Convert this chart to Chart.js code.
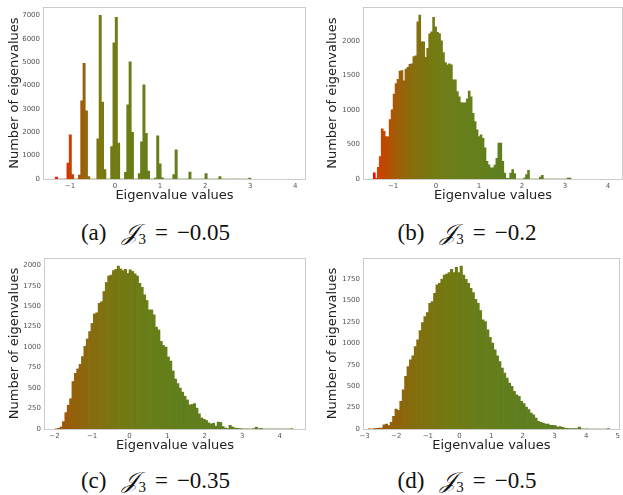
<!DOCTYPE html>
<html>
<head>
<meta charset="utf-8">
<script src="https://cdn.jsdelivr.net/npm/chart.js@4.4.0/dist/chart.umd.min.js"></script>
<style>
  body { margin: 0; background: #fff; }
  #fig { position: relative; width: 623px; height: 495px; overflow: hidden; }
  .panel { position: absolute; }
  .cap {
    position: absolute;
    text-align: center;
    font-family: 'Liberation Serif', 'DejaVu Serif', serif;
    font-size: 23px;
    color: #111;
    white-space: nowrap;
  }
  .cap sub { font-size: 15px; vertical-align: -4px; }
  .cap .J { font-style: italic; margin-left: 16px; }
  .cap .op { margin: 0 9px; }
</style>
</head>
<body>
<div id="fig">
  <div class="panel" style="left:0;top:0"><canvas id="chart-a" width="311" height="205"></canvas></div>
  <div class="panel" style="left:311px;top:0"><canvas id="chart-b" width="312" height="205"></canvas></div>
  <div class="panel" style="left:0;top:250px"><canvas id="chart-c" width="311" height="205"></canvas></div>
  <div class="panel" style="left:311px;top:250px"><canvas id="chart-d" width="312" height="205"></canvas></div>
  <div class="cap" style="left:0;top:220px;width:311px">(a)<span class="J">𝒥</span><sub>3</sub><span class="op">=</span>−0.05</div>
  <div class="cap" style="left:311px;top:220px;width:312px">(b)<span class="J">𝒥</span><sub>3</sub><span class="op">=</span>−0.2</div>
  <div class="cap" style="left:0;top:468px;width:311px">(c)<span class="J">𝒥</span><sub>3</sub><span class="op">=</span>−0.35</div>
  <div class="cap" style="left:311px;top:468px;width:312px">(d)<span class="J">𝒥</span><sub>3</sub><span class="op">=</span>−0.5</div>
</div>
<script>
// Histogram data: first bin edge, bin width, counts per bin

// (a) J3 = -0.05
const binStartA = -1.326;
const binWidthA = 0.0511;
const countsA = [
  85, 0, 0, 0, 0, 680, 1890, 185, 0, 0,
  170, 3340, 4950, 2920, 100, 0, 0, 0, 1720, 7000,
  3290, 400, 0, 0, 1390, 5830, 6920, 1540, 0, 0,
  285, 3170, 5010, 2000, 0, 0, 230, 1590, 4030, 1950,
  340, 0, 0, 40, 1850, 650, 55, 0, 0, 0,
  0, 185, 1250, 0, 0, 0, 0, 0, 300, 0,
  0, 0, 0, 0, 0, 230, 0, 0, 0, 0,
  0, 100, 0, 0, 0, 0, 0, 0, 0, 0,
  0, 0, 0, 0, 40
];
const xTicksA = [-1, 0, 1, 2, 3, 4];
const yTicksA = [0, 1000, 2000, 3000, 4000, 5000, 6000, 7000];

// (b) J3 = -0.2
const binStartB = -1.46;
const binWidthB = 0.046;
const countsB = [
  90, 10, 170, 325, 725, 690, 615, 610, 860, 1000,
  1230, 1380, 1440, 1560, 1570, 1420, 1590, 1615, 1660, 1665,
  1770, 1780, 2275, 2370, 1985, 1985, 1760, 1890, 2100, 2130,
  2340, 2200, 2120, 2105, 2000, 1830, 1685, 1650, 1665, 1650,
  1435, 1435, 1265, 1190, 1105, 1100, 1100, 1160, 1270, 1190,
  950, 830, 710, 615, 640, 590, 450, 255, 205, 160,
  160, 200, 300, 520, 520, 255, 87, 10, 10, 87,
  135, 77, 0, 0, 0, 0, 15, 63, 125, 0,
  0, 0, 0, 0, 29, 53, 0, 0, 0, 0,
  0, 0, 0, 0, 0, 0, 0, 0, 15, 15
];
const xTicksB = [-1, 0, 1, 2, 3, 4];
const yTicksB = [0, 500, 1000, 1500, 2000];

// (c) J3 = -0.35
const binStartC = -1.98;
const binWidthC = 0.0634;
const countsC = [
  3, 8, 25, 90, 200, 290, 370, 580, 680, 735,
  790, 885, 1010, 1100, 1190, 1290, 1405, 1420, 1535, 1555,
  1680, 1790, 1870, 1880, 1935, 1950, 1990, 1955, 1935, 1950,
  1900, 1945, 1925, 1895, 1870, 1780, 1730, 1640, 1570, 1455,
  1455, 1395, 1245, 1210, 1070, 1020, 1000, 880, 830, 710,
  610, 555, 500, 450, 400, 355, 295, 300, 310, 255,
  185, 135, 120, 105, 75, 62, 70, 35, 85, 80,
  30, 12, 5, 45, 25, 12, 8, 5, 3, 0,
  2, 0, 0, 5, 22, 4, 8, 0, 0, 0,
  0, 0, 0, 0, 0, 0, 0, 0, 0, 4
];
const xTicksC = [-2, -1, 0, 1, 2, 3, 4];
const yTicksC = [0, 250, 500, 750, 1000, 1250, 1500, 1750, 2000];

// (d) J3 = -0.5
const binStartD = -2.88;
const binWidthD = 0.0762;
const countsD = [
  3, 0, 5, 8, 12, 12, 50, 58, 40, 78,
  148, 233, 218, 323, 459, 615, 731, 809, 856, 964,
  1042, 1151, 1245, 1315, 1361, 1470, 1490, 1587, 1684, 1703,
  1750, 1800, 1812, 1828, 1867, 1828, 1890, 1828, 1905, 1800,
  1750, 1703, 1645, 1595, 1517, 1470, 1384, 1276, 1256, 1159,
  1073, 1003, 926, 856, 789, 712, 653, 595, 537, 498,
  439, 400, 381, 323, 296, 257, 226, 187, 167, 128,
  89, 78, 70, 58, 58, 43, 43, 39, 23, 27,
  19, 12, 8, 6, 5, 5, 4, 23, 3, 0,
  2, 0, 0, 0, 0, 0, 0, 0, 0, 4
];
const xTicksD = [-3, -2, -1, 0, 1, 2, 3, 4, 5];
const yTicksD = [0, 250, 500, 750, 1000, 1250, 1500, 1750];

// red -> olive -> green colour ramp along the eigenvalue axis
const rampA = [[-1.33, '#ff1000'], [-1.0, '#c84000'], [-0.7, '#9a600a'], [-0.35, '#7e7810'], [0.0, '#707c14'], [0.7, '#667e1a'], [3.0, '#5c7e20']];
const rampB = [[-1.44, '#ff0000'], [-1.35, '#d84000'], [-1.2, '#c04800'], [-0.9, '#a05e08'], [-0.5, '#86700e'], [0.0, '#727a12'], [0.6, '#68801a'], [1.5, '#5f7f1f'], [3.2, '#5c7e20']];
const rampC = [[-1.95, '#a45008'], [-1.5, '#94600a'], [-1.0, '#866c0e'], [-0.3, '#767812'], [0.5, '#687e18'], [1.5, '#607e1e'], [4.4, '#5c7e20']];
const rampD = [[-2.9, '#a45008'], [-2.0, '#90620a'], [-1.2, '#80700e'], [-0.3, '#727a12'], [0.7, '#667e1a'], [2.0, '#5e7e20'], [5.0, '#5c7e20']];

const hexToRgb = (h) => [1, 3, 5].map((i) => parseInt(h.slice(i, i + 2), 16));

const rampColor = (ramp, x) => {
  if (x <= ramp[0][0]) return ramp[0][1];
  for (let k = 1; k < ramp.length; k++) {
    if (x <= ramp[k][0]) {
      const [x0, c0] = ramp[k - 1];
      const [x1, c1] = ramp[k];
      const t = (x - x0) / (x1 - x0);
      const a = hexToRgb(c0);
      const b = hexToRgb(c1);
      const m = a.map((v, j) => Math.round(v + (b[j] - v) * t));
      return `rgb(${m[0]},${m[1]},${m[2]})`;
    }
  }
  return ramp[ramp.length - 1][1];
};

// light grey box round the plot area
const framePlugin = {
  id: 'frame',
  beforeDatasetsDraw(chart) {
    const { ctx, chartArea: a } = chart;
    ctx.save();
    ctx.strokeStyle = '#cccccc';
    ctx.lineWidth = 1;
    ctx.strokeRect(Math.round(a.left) + 0.5, Math.round(a.top) + 0.5,
      Math.round(a.width) - 1, Math.round(a.height));
    ctx.restore();
  },
};

// matplotlib style: unicode minus, no thousands separator
const fmt = (v) => String(v).replace('-', '\u2212');

const makeHist = (id, cfg) => {
  const points = cfg.counts.map((c, i) => ({ x: cfg.start + (i + 0.5) * cfg.width, y: c }));
  const colorsArr = points.map((p) => rampColor(cfg.ramp, p.x));

  return new Chart(document.getElementById(id), {
    type: 'bar',
    data: {
      datasets: [
        {
          data: points,
          backgroundColor: colorsArr,
          borderWidth: 0,
          barPercentage: 1,
          categoryPercentage: 1,
        },
      ],
    },
    plugins: [framePlugin],
    options: {
      responsive: false,
      animation: false,
      devicePixelRatio: 1,
      layout: {
        padding: { left: 0, right: cfg.padRight, top: cfg.padTop, bottom: 0 },
      },
      plugins: {
        legend: { display: false },
        tooltip: { enabled: false },
      },
      scales: {
        x: {
          type: 'linear',
          min: cfg.xMin,
          max: cfg.xMax,
          offset: false,
          grid: { display: false, drawTicks: false },
          border: { display: false },
          afterFit: (s) => { s.height = cfg.xAxisH; },
          afterBuildTicks: (s) => { s.ticks = cfg.xTicks.map((v) => ({ value: v })); },
          ticks: {
            autoSkip: false,
            maxRotation: 0,
            padding: 3,
            color: '#555555',
            font: { family: 'DejaVu Sans', size: 7 },
            callback: (v) => fmt(v),
          },
          title: {
            display: true,
            text: 'Eigenvalue values',
            color: '#222222',
            font: { family: 'DejaVu Sans', size: 13 },
            padding: { top: 0, bottom: 2 },
          },
        },
        y: {
          min: 0,
          max: cfg.yMax,
          grid: { display: false, drawTicks: false },
          border: { display: false },
          afterFit: (s) => { s.width = cfg.yAxisW; },
          afterBuildTicks: (s) => { s.ticks = cfg.yTicks.map((v) => ({ value: v })); },
          ticks: {
            autoSkip: false,
            padding: 3,
            color: '#555555',
            font: { family: 'DejaVu Sans', size: 7 },
            callback: (v) => fmt(v),
          },
          title: {
            display: true,
            text: 'Number of eigenvalues',
            color: '#222222',
            font: { family: 'DejaVu Sans', size: 13 },
            padding: { top: cfg.yTitlePad, bottom: 0 },
          },
        },
      },
    },
  });
};

makeHist('chart-a', {
  counts: countsA, start: binStartA, width: binWidthA, ramp: rampA,
  xMin: -1.6, xMax: 4.24, yMax: 7350, xTicks: xTicksA, yTicks: yTicksA,
  yAxisW: 43, xAxisH: 26, padTop: 7, padRight: 5, yTitlePad: 7,
});
makeHist('chart-b', {
  counts: countsB, start: binStartB, width: binWidthB, ramp: rampB,
  xMin: -1.7, xMax: 4.35, yMax: 2485, xTicks: xTicksB, yTicks: yTicksB,
  yAxisW: 52, xAxisH: 26, padTop: 7, padRight: 0, yTitlePad: 14,
});
makeHist('chart-c', {
  counts: countsC, start: binStartC, width: binWidthC, ramp: rampC,
  xMin: -2.28, xMax: 4.7, yMax: 2089, xTicks: xTicksC, yTicks: yTicksC,
  yAxisW: 44, xAxisH: 26, padTop: 8, padRight: 5, yTitlePad: 7,
});
makeHist('chart-d', {
  counts: countsD, start: binStartD, width: binWidthD, ramp: rampD,
  xMin: -3.05, xMax: 5.06, yMax: 1999, xTicks: xTicksD, yTicks: yTicksD,
  yAxisW: 52, xAxisH: 26, padTop: 8, padRight: 0, yTitlePad: 14,
});
</script>
</body>
</html>
